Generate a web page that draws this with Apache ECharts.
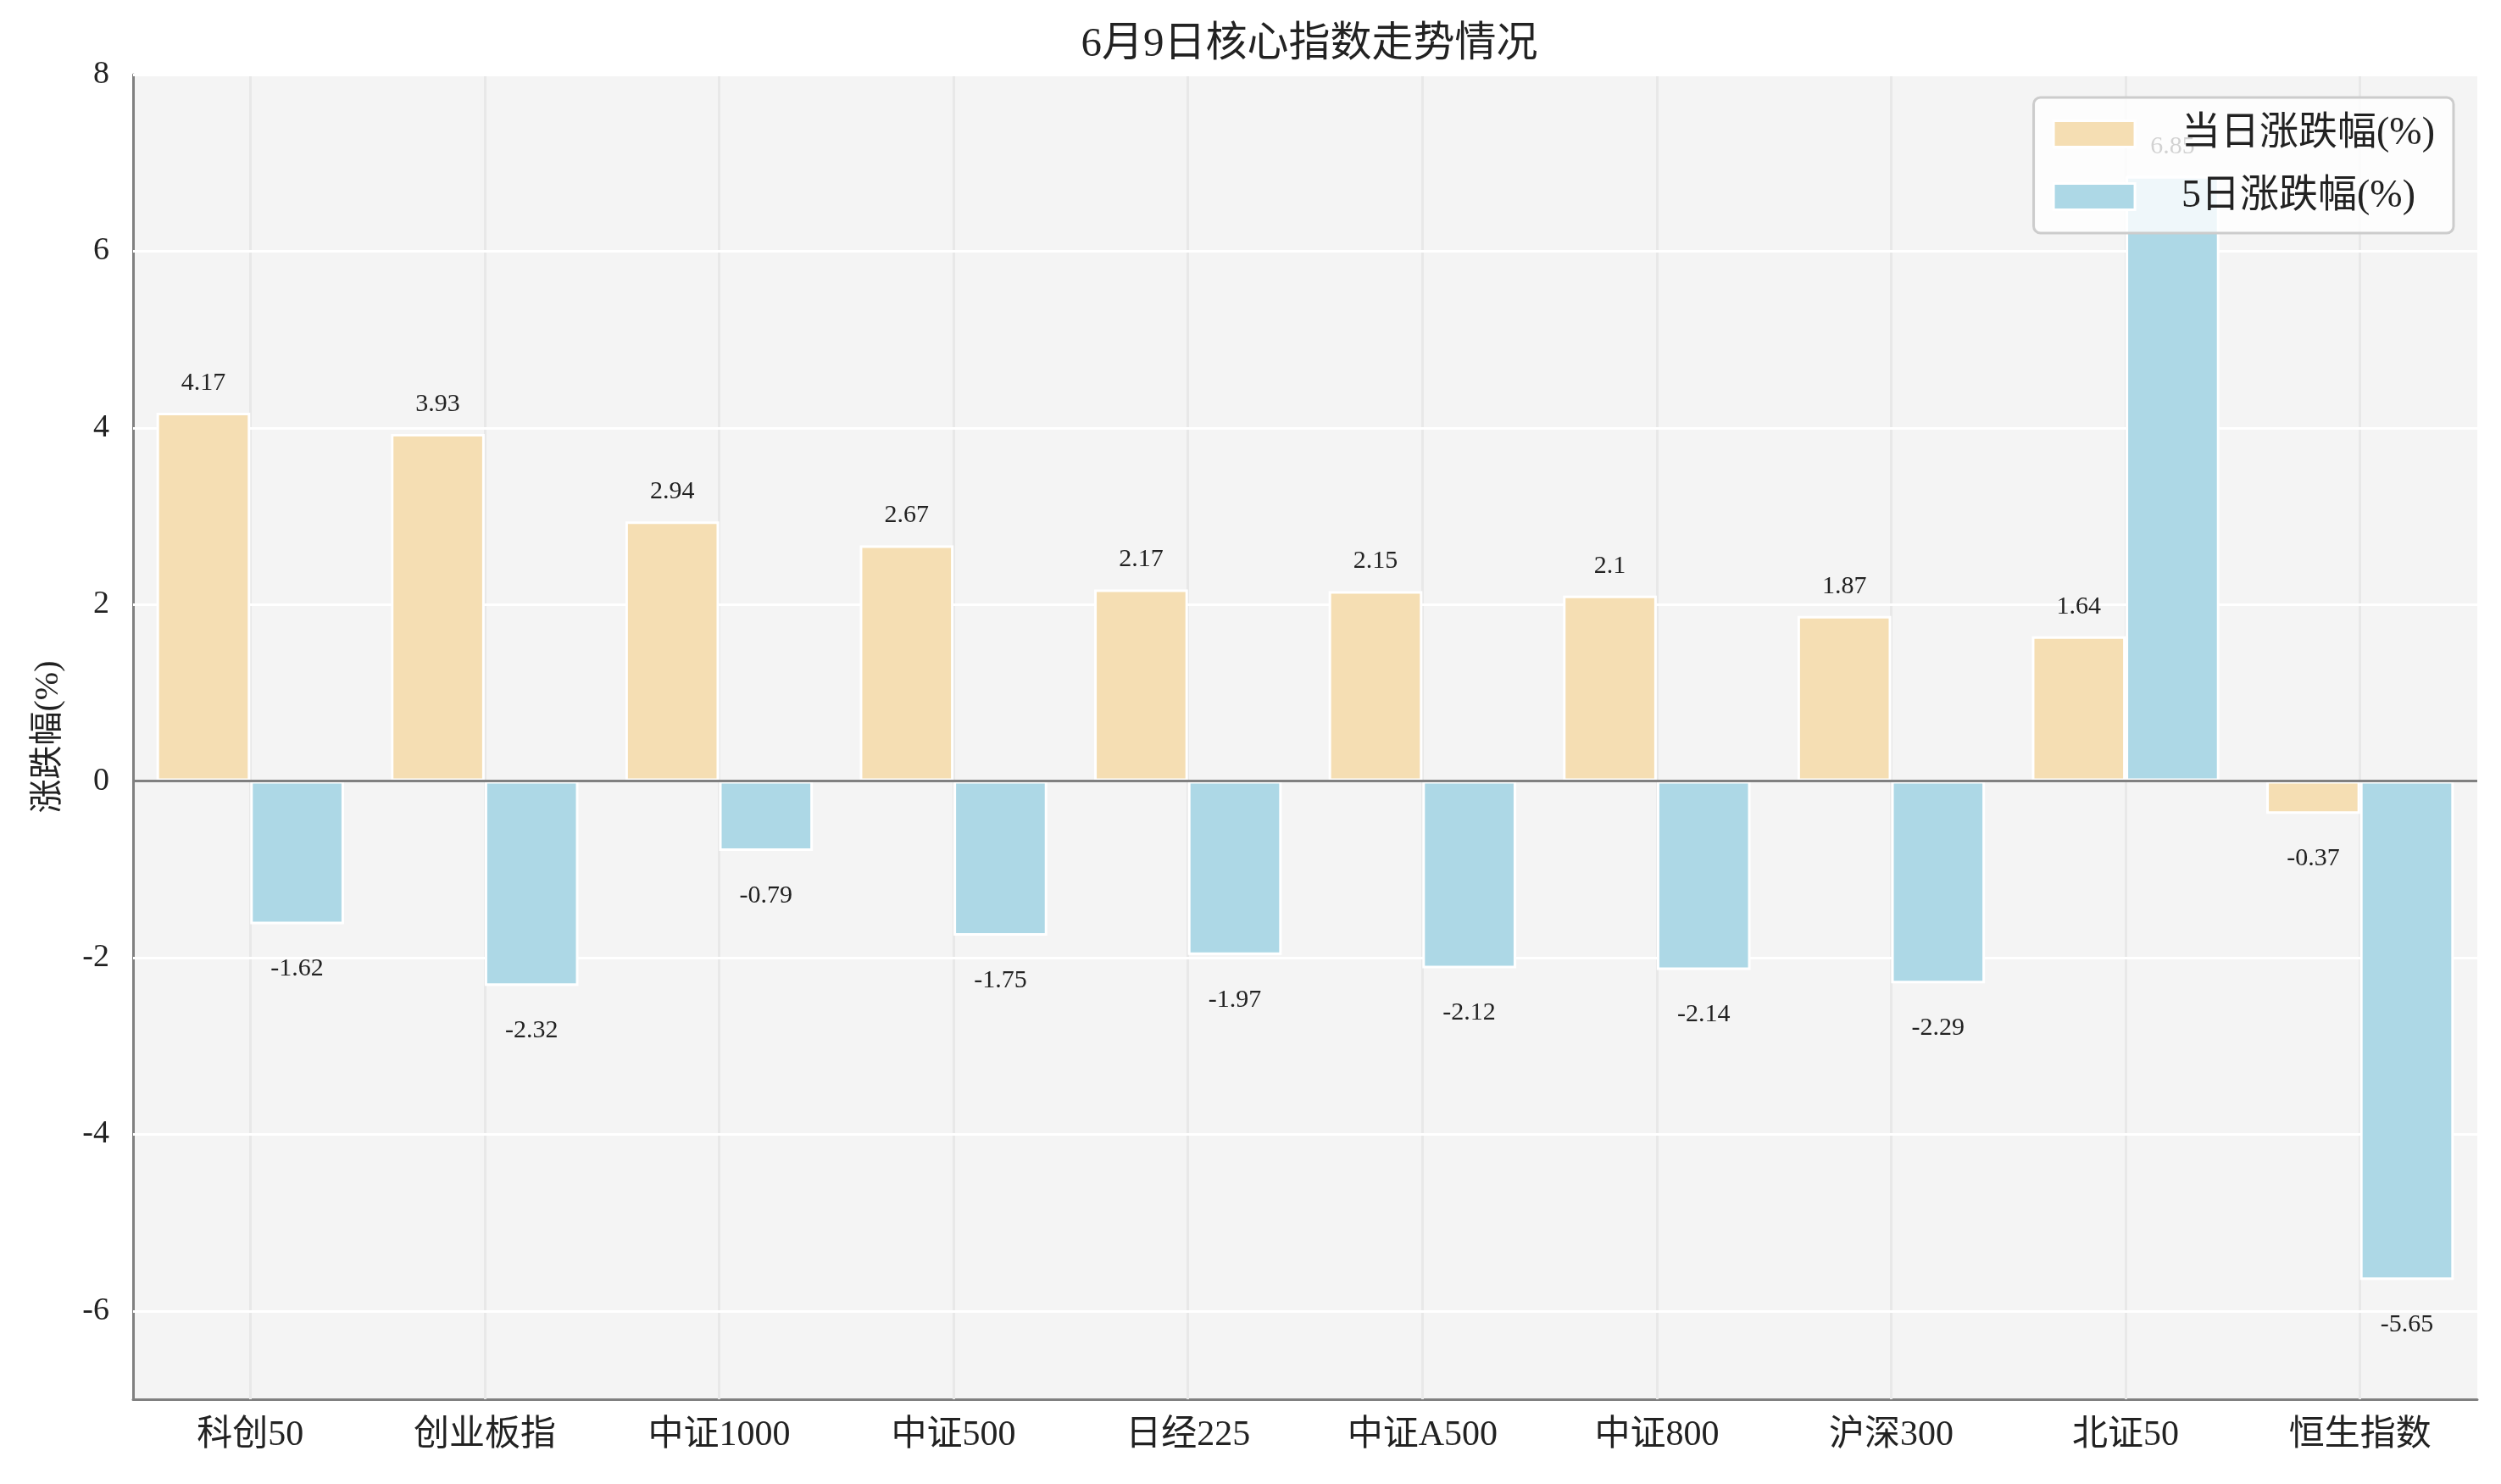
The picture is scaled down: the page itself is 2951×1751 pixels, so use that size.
<!DOCTYPE html>
<html><head><meta charset="utf-8">
<script src="https://cdn.jsdelivr.net/npm/echarts@6/dist/echarts.min.js"></script>
<style>html,body{margin:0;padding:0;background:#fff}#c{width:2951px;height:1751px}</style>
</head><body><div id="c"></div>
<script>
const categories = ['科创50','创业板指','中证1000','中证500','日经225','中证A500','中证800','沪深300','北证50','恒生指数'];
const dayChange = [4.17, 3.93, 2.94, 2.67, 2.17, 2.15, 2.1, 1.87, 1.64, -0.37];
const fiveDayChange = [-1.62, -2.32, -0.79, -1.75, -1.97, -2.12, -2.14, -2.29, 6.85, -5.65];
const yTicks = [-6, -4, -2, 0, 2, 4, 6, 8];
const seriesNames = ['当日涨跌幅(%)', '5日涨跌幅(%)'];
const titleText = '6月9日核心指数走势情况';
const yName = '涨跌幅(%)';

const FONT = "'Liberation Serif', 'Noto Sans CJK SC', serif";
const chart = echarts.init(document.getElementById('c'));

function labeled(arr) {
  return arr.map(v => ({
    value: v,
    label: { position: v >= 0 ? 'top' : 'bottom', distance: v >= 0 ? 20 : 38 }
  }));
}

const barCommon = {
  type: 'bar',
  barWidth: '40%',
  barGap: '0%',
  z: 2,
  label: { show: true, fontFamily: FONT, fontSize: 30, color: '#222', formatter: p => String(p.value) }
};

chart.setOption({
  animation: false,
  backgroundColor: '#ffffff',
  title: {
    text: titleText, left: 1540, textAlign: 'center', top: 24,
    textStyle: { fontFamily: FONT, fontSize: 49, fontWeight: 'normal', color: '#222' }
  },
  legend: {
    data: seriesNames,
    orient: 'vertical',
    right: 56, top: 115,
    icon: 'rect',
    itemWidth: 96, itemHeight: 31, itemGap: 28,
    padding: [20, 22, 20, 22],
    backgroundColor: 'rgba(255,255,255,0.8)',
    borderColor: '#cccccc', borderWidth: 3, borderRadius: 8,
    textStyle: { fontFamily: FONT, fontSize: 46, color: '#222', padding: [0, 0, 0, 50] },
    itemStyle: { borderColor: '#fff', borderWidth: 3 },
    zlevel: 1, z: 10
  },
  grid: {
    left: 157, right: 28, top: 88, bottom: 100,
    show: true, backgroundColor: '#f4f4f4', borderWidth: 0
  },
  xAxis: {
    type: 'category', data: categories,
    axisLine: { onZero: false, lineStyle: { color: '#808080', width: 3 } },
    axisTick: { show: false },
    axisLabel: { fontFamily: FONT, fontSize: 42, color: '#222', margin: 22 },
    splitLine: { show: false }
  },
  yAxis: {
    type: 'value', min: -7, max: 8, interval: 1,
    name: yName, nameLocation: 'middle', nameGap: 80,
    nameTextStyle: { fontFamily: FONT, fontSize: 40, color: '#222' },
    axisLine: { show: true, lineStyle: { color: '#808080', width: 3 } },
    axisTick: { show: false },
    axisLabel: {
      fontFamily: FONT, fontSize: 38, color: '#222', margin: 28,
      formatter: v => yTicks.indexOf(v) >= 0 ? String(v) : ''
    },
    splitLine: { show: false }
  },
  series: [
    {
      name: 'grid', type: 'line', data: [], z: 1, silent: true,
      markLine: {
        z: 1,
        silent: true, symbol: ['none', 'none'], label: { show: false },
        animation: false,
        data: [
          ...categories.map(c => ({ xAxis: c, lineStyle: { color: '#e8e8e8', width: 3, type: 'solid' } })),
          ...yTicks.map(t => ({ yAxis: t, lineStyle: { color: '#ffffff', width: 3, type: 'solid' } }))
        ]
      }
    },
    Object.assign({}, barCommon, {
      name: seriesNames[0], data: labeled(dayChange),
      itemStyle: { color: '#F5DEB3', borderColor: '#ffffff', borderWidth: 3 }
    }),
    Object.assign({}, barCommon, {
      name: seriesNames[1], data: labeled(fiveDayChange),
      itemStyle: { color: '#ADD8E6', borderColor: '#ffffff', borderWidth: 3 }
    }),
    {
      name: 'zero', type: 'line', data: [], z: 5, silent: true,
      markLine: {
        z: 5,
        silent: true, symbol: ['none', 'none'], label: { show: false }, animation: false,
        data: [{ yAxis: 0, lineStyle: { color: '#808080', width: 3, type: 'solid' } }]
      }
    }
  ]
});
</script></body></html>
